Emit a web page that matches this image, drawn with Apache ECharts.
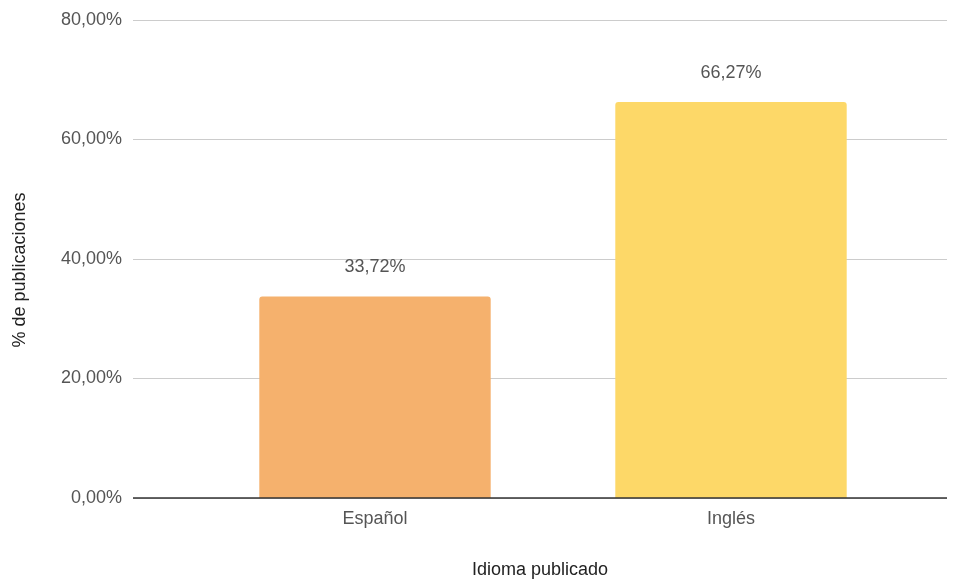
<!DOCTYPE html>
<html><head><meta charset="utf-8">
<script src="https://cdn.jsdelivr.net/npm/echarts@6/dist/echarts.min.js"></script>
<style>html,body{margin:0;padding:0;background:#fff}#c{width:962px;height:580px}</style>
</head><body><div id="c"></div>
<script>
const categories = ["Español", "Inglés"];
const values = [33.72, 66.27];
const barColors = ["#F5B16D", "#FDD868"];
const yTicks = [0, 20, 40, 60, 80];

const fmt = v => v.toFixed(2).replace('.', ',') + '%';
const chart = echarts.init(document.getElementById('c'));
const yMin = yTicks[0], yMax = yTicks[yTicks.length - 1];
chart.setOption({
  animation: false,
  textStyle: { fontFamily: 'Liberation Sans, Arial, sans-serif' },
  grid: [
    { left: 133, right: 15, top: 20, bottom: 82, containLabel: false, outerBoundsMode: 'none' },
    { left: 197, right: 53, top: 20, bottom: 82, containLabel: false, outerBoundsMode: 'none' }
  ],
  xAxis: [
    {
      gridIndex: 0, type: 'category', data: categories,
      axisLine: { show: false }, axisTick: { show: false }, axisLabel: { show: false },
      name: 'Idioma publicado', nameLocation: 'middle', nameGap: 63,
      nameTextStyle: { color: '#222', fontSize: 18 }
    },
    {
      gridIndex: 1, type: 'category', data: categories,
      axisLine: { show: false }, axisTick: { show: false },
      axisLabel: { color: '#555', fontSize: 18, margin: 12 }
    }
  ],
  yAxis: [
    {
      gridIndex: 0, type: 'value', min: yMin, max: yMax, interval: 20,
      name: '% de publicaciones', nameLocation: 'middle', nameGap: 104,
      nameTextStyle: { color: '#222', fontSize: 18, padding: [0, 22, 0, 0] },
      axisLine: { show: false }, axisTick: { show: false },
      axisLabel: { color: '#555', fontSize: 18, margin: 11, formatter: v => fmt(v) },
      splitLine: { lineStyle: { color: '#ccc', width: 1 } }
    },
    {
      gridIndex: 1, type: 'value', min: yMin, max: yMax, interval: 20,
      axisLine: { show: false }, axisTick: { show: false }, axisLabel: { show: false },
      splitLine: { show: false }
    }
  ],
  series: [{
    type: 'bar', xAxisIndex: 1, yAxisIndex: 1, barWidth: '65%',
    data: values.map((v, i) => ({ value: v, itemStyle: { color: barColors[i], borderRadius: [3, 3, 0, 0] } })),
    label: { show: true, position: 'top', distance: 20, color: '#555', fontSize: 18, formatter: p => fmt(p.value) },
    markLine: {
      silent: true, symbol: 'none', label: { show: false },
      lineStyle: { color: '#333', width: 1.5, type: 'solid' },
      data: [[{ coord: [-0.5, 0], x: 133 }, { coord: [1.5, 0], x: 947 }]]
    }
  }]
});
</script></body></html>
